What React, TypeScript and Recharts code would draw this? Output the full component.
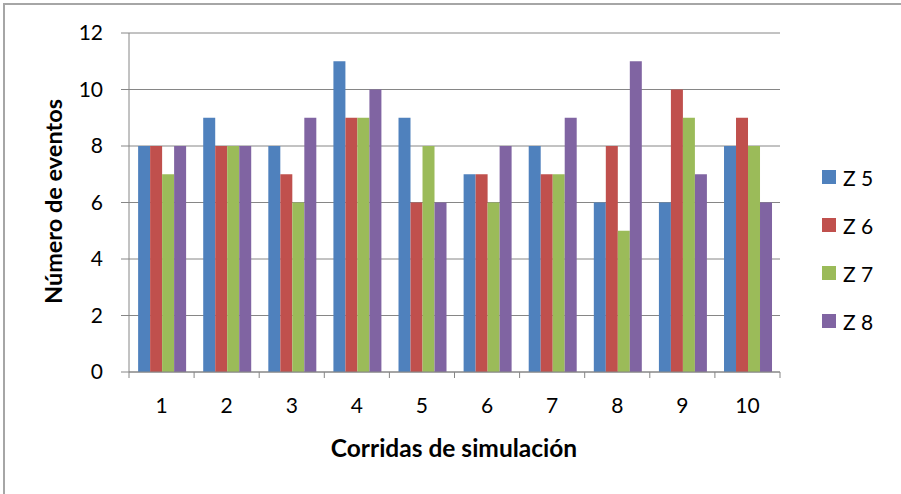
import React from 'react';
import { BarChart, Bar, XAxis, YAxis, CartesianGrid, Legend, Label } from 'recharts';

const categories = ['1', '2', '3', '4', '5', '6', '7', '8', '9', '10'];
const z5 = [8, 9, 8, 11, 9, 7, 8, 6, 6, 8];
const z6 = [8, 8, 7, 9, 6, 7, 7, 8, 10, 9];
const z7 = [7, 8, 6, 9, 8, 6, 7, 5, 9, 8];
const z8 = [8, 8, 9, 10, 6, 8, 9, 11, 7, 6];
const yTicks = [0, 2, 4, 6, 8, 10, 12];
const seriesNames = ['Z 5', 'Z 6', 'Z 7', 'Z 8'];
const seriesColors = ['#4F81BD', '#C0504D', '#9BBB59', '#8064A2'];

const data = categories.map((c, i) => ({
  name: c,
  'Z 5': z5[i],
  'Z 6': z6[i],
  'Z 7': z7[i],
  'Z 8': z8[i],
}));

const FONT = 'Lato, "Open Sans", sans-serif';
const GRID = '#868686';
const TICK_MARGIN_X = 26;

const CatTick = (props: any) => {
  const { x, y, payload, index, visibleTicksCount, width } = props;
  const band = width / visibleTicksCount;
  const axisY = y - TICK_MARGIN_X;
  return (
    <g>
      <line x1={x - band / 2} x2={x - band / 2} y1={axisY} y2={axisY + 6} stroke={GRID} strokeWidth={1} />
      {index === visibleTicksCount - 1 && (
        <line x1={x + band / 2} x2={x + band / 2} y1={axisY} y2={axisY + 6} stroke={GRID} strokeWidth={1} />
      )}
      <text x={x} y={y} dy="0.71em" textAnchor="middle" fill="#000" fontSize={21} fontFamily={FONT}>
        {payload.value}
      </text>
    </g>
  );
};

const LegendContent = () => (
  <div style={{ fontFamily: FONT }}>
    {seriesNames.map((n, i) => (
      <div key={n} style={{ display: 'flex', alignItems: 'center', height: 48 }}>
        <div style={{ width: 14, height: 14, background: seriesColors[i], marginRight: 7 }} />
        <span style={{ fontSize: 21, color: '#000' }}>{n}</span>
      </div>
    ))}
  </div>
);

export default function App() {
  return (
    <div style={{ position: 'absolute', left: 0, top: 0, width: 901, height: 494, overflow: 'hidden', background: '#fff' }}>
      <div
        style={{
          position: 'absolute',
          left: 3,
          top: 3,
          width: 1000,
          height: 1000,
          border: '2px solid #a6a6a6',
          boxSizing: 'border-box',
        }}
      />
      <div style={{ position: 'absolute', left: 0, top: 0 }}>
        <BarChart
          width={901}
          height={494}
          data={data}
          margin={{ top: 33, right: 121, left: 0, bottom: 0 }}
          barCategoryGap="14%"
          barGap={0}
        >
          <CartesianGrid horizontal vertical={false} stroke={GRID} strokeWidth={1} />
          <XAxis
            dataKey="name"
            height={122}
            axisLine={{ stroke: GRID }}
            tickLine={false}
            tickSize={0}
            tickMargin={TICK_MARGIN_X}
            interval={0}
            tick={(p: any) => <CatTick {...p} />}
          >
            <Label
              content={(p: any) => {
                const vb = p.viewBox;
                return (
                  <text
                    x={454}
                    y={vb.y + 75}
                    textAnchor="middle"
                    dominantBaseline="central"
                    fontSize={24.5}
                    fontWeight="bold"
                    fontFamily={FONT}
                    fill="#000"
                  >
                    Corridas de simulación
                  </text>
                );
              }}
            />
          </XAxis>
          <YAxis
            width={129}
            domain={[0, 12]}
            ticks={yTicks}
            interval={0}
            axisLine={{ stroke: GRID }}
            tickLine={{ stroke: GRID }}
            tickSize={8}
            tickMargin={18}
            tick={{ fill: '#000', fontSize: 21, fontFamily: FONT }}
          >
            <Label
              content={(p: any) => {
                const vb = p.viewBox;
                const cy = vb.y + vb.height / 2 - 1;
                return (
                  <text
                    x={53}
                    y={cy}
                    transform={`rotate(-90 53 ${cy})`}
                    textAnchor="middle"
                    dominantBaseline="central"
                    fontSize={23.5}
                    fontWeight="bold"
                    fontFamily={FONT}
                    fill="#000"
                  >
                    Número de eventos
                  </text>
                );
              }}
            />
          </YAxis>
          <Legend
            layout="vertical"
            align="center"
            verticalAlign="middle"
            content={<LegendContent />}
            wrapperStyle={{ left: 822, top: 153, width: 70 }}
          />
          {seriesNames.map((n, i) => (
            <Bar key={n} dataKey={n} fill={seriesColors[i]} isAnimationActive={false} />
          ))}
        </BarChart>
      </div>
    </div>
  );
}
